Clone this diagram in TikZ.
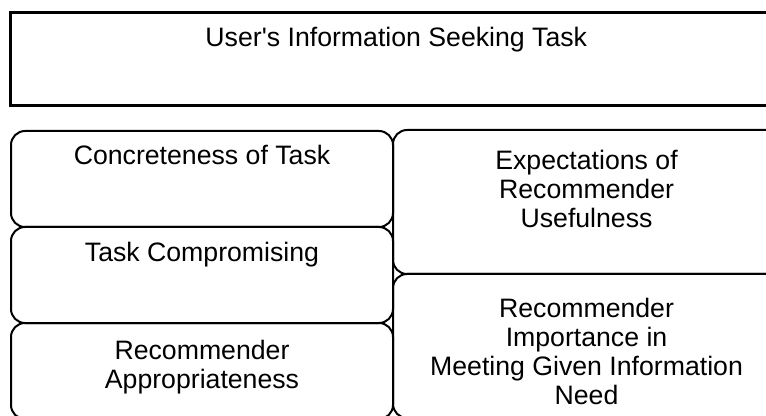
\documentclass[tikz,border=0pt]{standalone}
\usepackage{fontspec}
\setmainfont{Liberation Sans}
\usetikzlibrary{positioning}
\begin{document}
\begin{tikzpicture}[x=1pt,y=-1pt,
  box/.style={draw, line width=1.5pt, rounded corners=10.5pt, outer sep=0pt, inner sep=0pt},
  lbl/.style={inner sep=0pt, align=center, font=\fontsize{20}{21.75}\selectfont}]
\useasboundingbox (0,0) rectangle (574.5,312);
\clip (0,0) rectangle (574.5,312);
\node[draw, line width=2.25pt, outer sep=0pt, minimum width=578.6pt, minimum height=69.4pt] (task) at (297.2,44.1){};
\node[lbl, below=10.9pt of task.north] (tasktxt) {User\textquotesingle s Information Seeking Task};
\node[box, minimum width=286.5pt, minimum height=72pt] (left0) at (151.5,134.25){};
\node[box, minimum width=286.5pt, minimum height=72pt] (left1) at (151.5,206.25){};
\node[box, minimum width=286.5pt, minimum height=72pt] (left2) at (151.5,278.25){};
\node[box, minimum width=290.25pt, minimum height=108pt] (right0) at (439.9,151.5){};
\node[box, minimum width=290.25pt, minimum height=108pt] (right1) at (439.9,259.5){};
\node[lbl, below=10.5pt of left0.north] (left0txt) {Concreteness of Task};
\node[lbl, below=11.25pt of left1.north] (left1txt) {Task Compromising};
\node[lbl, below=12.75pt of left2.north] (left2txt) {Recommender\\Appropriateness};
\node[lbl, below=15pt of right0.north] (right0txt) {Expectations of\\Recommender\\Usefulness};
\node[lbl, below=18pt of right1.north] (right1txt) {Recommender\\Importance in\\Meeting Given Information\\Need};
\end{tikzpicture}
\end{document}
